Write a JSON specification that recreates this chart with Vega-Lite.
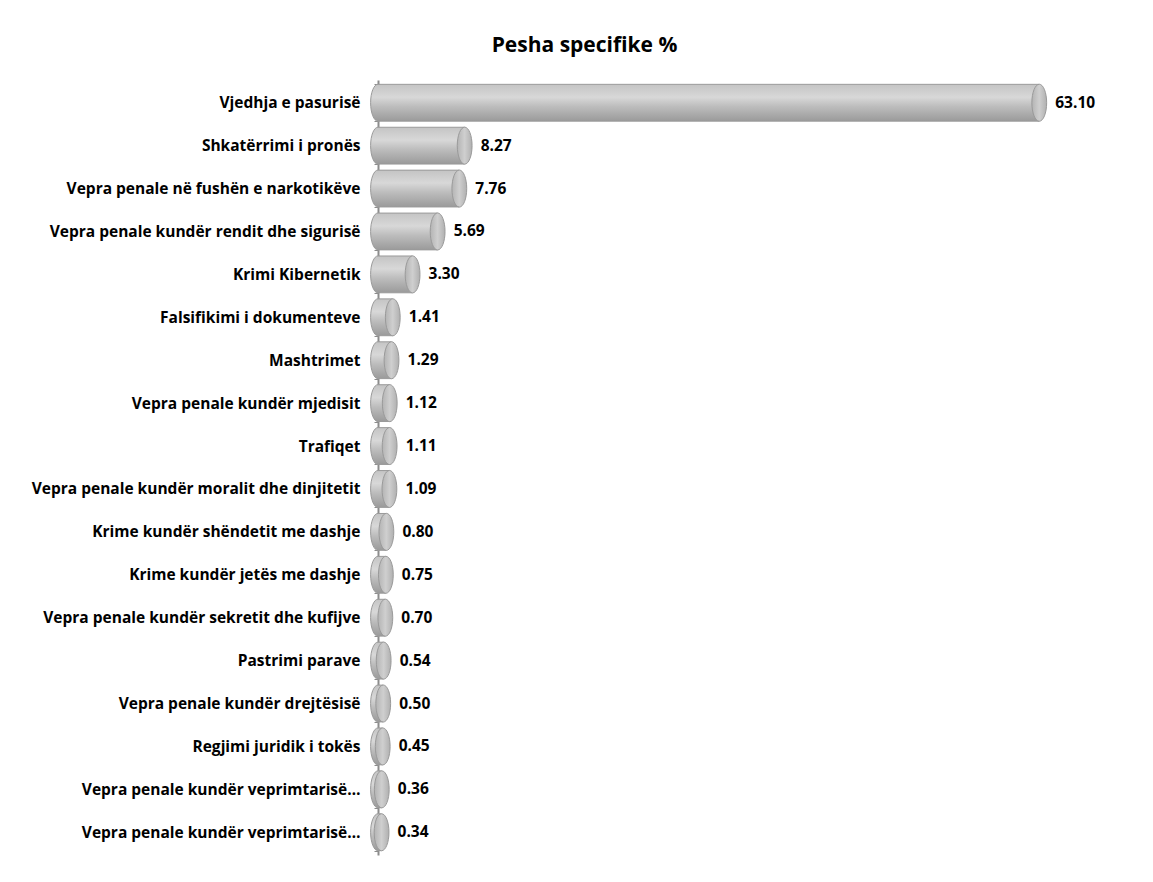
{
  "$schema": "https://vega.github.io/schema/vega-lite/v6.json",
  "width": 765,
  "height": 775,
  "autosize": {"type": "none"},
  "padding": {"left": 378, "top": 80, "right": 10, "bottom": 27},
  "background": "white",
  "title": {
    "text": "Pesha specifike %",
    "font": "Open Sans",
    "fontSize": 21,
    "fontWeight": "bold",
    "color": "#000000",
    "anchor": "middle",
    "dx": -176,
    "offset": 17
  },
  "config": {"view": {"stroke": null}},
  "data": {
    "values": [
      {"crime": "Vjedhja e pasurisë", "pct": 63.10},
      {"crime": "Shkatërrimi i pronës", "pct": 8.27},
      {"crime": "Vepra penale në fushën e narkotikëve ", "pct": 7.76},
      {"crime": "Vepra penale kundër rendit dhe sigurisë", "pct": 5.69},
      {"crime": "Krimi Kibernetik", "pct": 3.30},
      {"crime": "Falsifikimi i dokumenteve", "pct": 1.41},
      {"crime": "Mashtrimet", "pct": 1.29},
      {"crime": "Vepra penale kundër mjedisit", "pct": 1.12},
      {"crime": "Trafiqet", "pct": 1.11},
      {"crime": "Vepra penale kundër moralit dhe dinjitetit", "pct": 1.09},
      {"crime": "Krime kundër shëndetit me dashje", "pct": 0.80},
      {"crime": "Krime kundër jetës me dashje", "pct": 0.75},
      {"crime": "Vepra penale kundër sekretit dhe kufijve ", "pct": 0.70},
      {"crime": "Pastrimi parave", "pct": 0.54},
      {"crime": "Vepra penale kundër drejtësisë", "pct": 0.50},
      {"crime": "Regjimi juridik i tokës", "pct": 0.45},
      {"crime": "Vepra penale kundër veprimtarisë…", "pct": 0.36},
      {"crime": "Vepra penale kundër veprimtarisë…\u200b", "pct": 0.34}
    ]
  },
  "encoding": {
    "y": {
      "field": "crime",
      "type": "nominal",
      "sort": null,
      "scale": {"paddingInner": 0.14, "paddingOuter": 0.1},
      "axis": {
        "title": null,
        "labelFont": "Open Sans",
        "labelFontSize": 15.5,
        "labelFontWeight": "bold",
        "labelColor": "#000000",
        "labelPadding": 14,
        "labelLimit": 400,
        "domainColor": "#8c8c8c",
        "domainWidth": 2,
        "tickColor": "#8c8c8c",
        "tickSize": 4,
        "tickBand": "extent"
      }
    },
    "x": {
      "field": "pct",
      "type": "quantitative",
      "scale": {"domain": [0, 73], "nice": false},
      "axis": null
    }
  },
  "layer": [
    {
      "mark": {
        "type": "point",
        "shape": "M0,-1A0.4,1 0 1,1 0,1A0.4,1 0 1,1 0,-1Z",
        "size": 1369,
        "filled": true,
        "opacity": 1,
        "stroke": "#9a9a9a",
        "strokeWidth": 1,
        "color": {
          "gradient": "linear",
          "x1": 0, "y1": 0, "x2": 0, "y2": 1,
          "stops": [
            {"offset": 0, "color": "#c4c4c4"},
            {"offset": 0.35, "color": "#d8d8d8"},
            {"offset": 0.6, "color": "#bdbdbd"},
            {"offset": 1, "color": "#9a9a9a"}
          ]
        }
      },
      "encoding": {"x": {"datum": 0, "type": "quantitative"}}
    },
    {
      "mark": {
        "type": "bar",
        "stroke": null,
        "color": {
          "gradient": "linear",
          "x1": 0, "y1": 0, "x2": 0, "y2": 1,
          "stops": [
            {"offset": 0, "color": "#c4c4c4"},
            {"offset": 0.35, "color": "#d8d8d8"},
            {"offset": 0.6, "color": "#bdbdbd"},
            {"offset": 1, "color": "#9a9a9a"}
          ]
        }
      }
    },
    {
      "mark": {
        "type": "rule",
        "color": "#9a9a9a",
        "strokeWidth": 1,
        "yOffset": -18.4
      },
      "encoding": {"x": {"datum": 0, "type": "quantitative"}, "x2": {"field": "pct"}}
    },
    {
      "mark": {
        "type": "rule",
        "color": "#9a9a9a",
        "strokeWidth": 1,
        "yOffset": 18.4
      },
      "encoding": {"x": {"datum": 0, "type": "quantitative"}, "x2": {"field": "pct"}}
    },
    {
      "mark": {
        "type": "point",
        "shape": "M0,-1A0.4,1 0 1,1 0,1A0.4,1 0 1,1 0,-1Z",
        "size": 1369,
        "filled": true,
        "opacity": 1,
        "stroke": "#9a9a9a",
        "strokeWidth": 1,
        "color": {
          "gradient": "linear",
          "x1": 0, "y1": 0, "x2": 1, "y2": 0,
          "stops": [
            {"offset": 0, "color": "#b4b4b4"},
            {"offset": 0.5, "color": "#cfcfcf"},
            {"offset": 1, "color": "#b0b0b0"}
          ]
        }
      }
    },
    {
      "mark": {
        "type": "text",
        "align": "left",
        "baseline": "middle",
        "dx": 16,
        "font": "Open Sans",
        "fontSize": 15.5,
        "fontWeight": "bold",
        "color": "#000000"
      },
      "encoding": {
        "text": {"field": "pct", "type": "quantitative", "format": ".2f"}
      }
    }
  ]
}
